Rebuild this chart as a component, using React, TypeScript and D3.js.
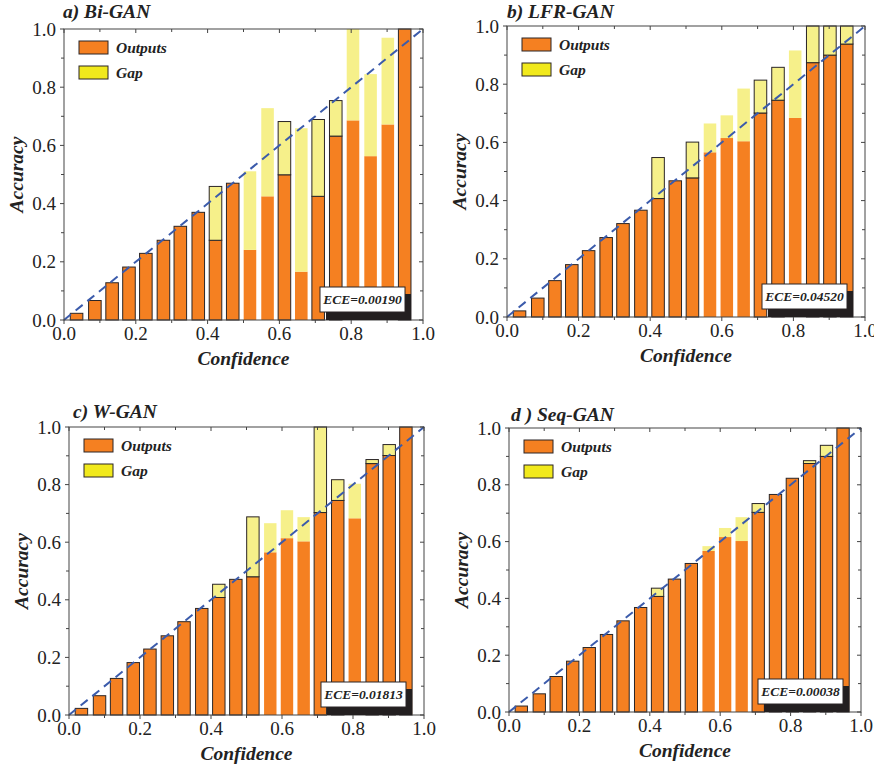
import React from "react";
import * as d3 from "d3";

// ---- data ----
const binCenters = [0.035, 0.086, 0.134, 0.181, 0.228, 0.277, 0.324, 0.374, 0.422, 0.470, 0.518, 0.567, 0.614, 0.661, 0.708, 0.757, 0.805, 0.854, 0.902, 0.949];

const accA = [0.023, 0.067, 0.128, 0.182, 0.229, 0.274, 0.322, 0.370, 0.274, 0.470, 0.241, 0.425, 0.499, 0.166, 0.425, 0.632, 0.686, 0.563, 0.672, 1.0];
const gapA = [null, null, null, null, null, null, null, null, 0.459, null, 0.511, 0.728, 0.682, 0.659, 0.689, 0.754, 1.0, 0.845, 0.970, null];
const plainBinsA = [11, 12, 14, 17, 18, 19];

const accB = [0.021, 0.065, 0.125, 0.180, 0.228, 0.273, 0.321, 0.367, 0.407, 0.468, 0.478, 0.566, 0.615, 0.604, 0.701, 0.745, 0.684, 0.874, 0.900, 0.938];
const gapB = [null, null, null, null, null, null, null, null, 0.548, null, 0.601, 0.665, 0.693, 0.785, 0.814, 0.858, 0.916, 1.0, 1.0, 1.0];
const plainBinsB = [12, 13, 14, 17];

const accC = [0.023, 0.067, 0.127, 0.182, 0.229, 0.275, 0.324, 0.370, 0.408, 0.471, 0.480, 0.565, 0.614, 0.603, 0.703, 0.745, 0.683, 0.873, 0.901, 1.0];
const gapC = [null, null, null, null, null, null, null, null, 0.454, null, 0.688, 0.666, 0.711, 0.687, 1.0, 0.817, 0.803, 0.887, 0.939, null];
const plainBinsC = [12, 13, 14, 17];

const accD = [0.021, 0.064, 0.125, 0.179, 0.227, 0.273, 0.321, 0.368, 0.407, 0.468, 0.523, 0.567, 0.616, 0.602, 0.703, 0.766, 0.823, 0.875, 0.900, 1.0];
const gapD = [null, null, null, null, null, null, null, null, 0.436, null, null, 0.584, 0.648, 0.686, 0.734, null, null, 0.885, 0.939, null];
const plainBinsD = [12, 13, 14];

const titles = ["a) Bi-GAN", "b) LFR-GAN", "c) W-GAN", "d ) Seq-GAN"];
const eceLabels = ["ECE=0.00190", "ECE=0.04520", "ECE=0.01813", "ECE=0.00038"];
const legendLabels = ["Outputs", "Gap"];
const majorTicks = [0, 0.2, 0.4, 0.6, 0.8, 1.0];
const minorTicks = [0.1, 0.3, 0.5, 0.7, 0.9];
const axisTitles = { x: "Confidence", y: "Accuracy" };

// ---- styles ----
const ORANGE = "#f58021";
const GAP_PALE = "#f6f08a";
const GAP_LEGEND = "#f1e91c";
const EDGE = "#2a2526";
const FONT = "\"Liberation Serif\", \"DejaVu Serif\", serif";
const BAR_W = 0.035;

const txt = (size: number, bold = false): React.CSSProperties => ({
  fontFamily: FONT,
  fontSize: size,
  fontWeight: bold ? "bold" : "normal",
  fontStyle: bold ? "italic" : "normal",
});

type PanelProps = {
  left: number; top: number; right: number; bottom: number;
  titleX: number; titleY: number;
  title: string; ece: string;
  acc: number[]; gap: (number | null)[]; plain: number[];
};

function Panel(p: PanelProps) {
  const x = d3.scaleLinear().domain([0, 1]).range([p.left, p.right]);
  const y = d3.scaleLinear().domain([0, 1]).range([p.bottom, p.top]);
  const fmt = d3.format(".1f");
  const all = [...majorTicks, ...minorTicks];
  const boxW = 85, boxH = 25;
  const boxX = p.right - 18 - boxW;
  const boxY = p.bottom - 8 - boxH;
  return (
    <g>
      {binCenters.map((c, i) => {
        const x0 = x(c - BAR_W / 2);
        const w = x(c + BAR_W / 2) - x0;
        const outlined = !p.plain.includes(i + 1);
        const a = p.acc[i];
        const g = p.gap[i];
        return (
          <g key={i}>
            <rect x={x0} y={y(a)} width={w} height={y(0) - y(a)} fill={ORANGE}
              stroke={outlined ? EDGE : "none"} strokeWidth={1} />
            {g != null && (
              <rect x={x0} y={y(g)} width={w} height={y(a) - y(g)} fill={GAP_PALE}
                stroke={outlined ? EDGE : "none"} strokeWidth={1} />
            )}
          </g>
        );
      })}
      <line x1={x(0)} y1={y(0)} x2={x(1)} y2={y(1)} stroke="#3b5bab" strokeWidth={2} strokeDasharray="9,6" />
      <rect x={p.left} y={p.top} width={p.right - p.left} height={p.bottom - p.top} fill="none" stroke="#444" strokeWidth={1} />
      {all.map((t, i) => {
        const len = majorTicks.includes(t) ? 4 : 3;
        return (
          <g key={"t" + i} stroke="#444" strokeWidth={1}>
            <line x1={x(t)} x2={x(t)} y1={p.bottom} y2={p.bottom + len} />
            <line x1={x(t)} x2={x(t)} y1={p.top} y2={p.top + len} />
            <line x1={p.left} x2={p.left - len} y1={y(t)} y2={y(t)} />
            <line x1={p.right} x2={p.right - len} y1={y(t)} y2={y(t)} />
          </g>
        );
      })}
      {majorTicks.map((t, i) => (
        <text key={"xl" + i} x={x(t)} y={p.bottom + 20} textAnchor="middle" style={txt(19)} fill="#222">{fmt(t)}</text>
      ))}
      {majorTicks.map((t, i) => (
        <text key={"yl" + i} x={p.left - 8} y={y(t)} dy="0.35em" textAnchor="end" style={txt(19)} fill="#222">{fmt(t)}</text>
      ))}
      <text x={(p.left + p.right) / 2} y={p.bottom + 45} textAnchor="middle" style={txt(19.5, true)} fill="#222">{axisTitles.x}</text>
      <text transform={`translate(${p.left - 41},${(p.top + p.bottom) / 2}) rotate(-90)`} textAnchor="middle" style={txt(19.5, true)} fill="#222">{axisTitles.y}</text>
      <text x={p.titleX} y={p.titleY} style={txt(19.5, true)} fill="#222">{p.title}</text>
      {legendLabels.map((l, i) => (
        <g key={"lg" + i}>
          <rect x={p.left + 15} y={p.top + 12 + i * 25} width={29} height={13} fill={i === 0 ? ORANGE : GAP_LEGEND} stroke={EDGE} strokeWidth={1} />
          <text x={p.left + 52} y={p.top + 24 + i * 25} style={txt(15.5, true)} fill="#222">{l}</text>
        </g>
      ))}
      <rect x={boxX + 6} y={boxY + 7} width={boxW} height={boxH + 1} fill="#231f20" />
      <rect x={boxX} y={boxY} width={boxW} height={boxH} fill="#fff" stroke={EDGE} strokeWidth={1} />
      <text x={boxX + boxW / 2} y={boxY + boxH / 2} dy="0.35em" textAnchor="middle" style={txt(13.5, true)} fill="#222">{p.ece}</text>
    </g>
  );
}

export default function App() {
  return (
    <svg width={874} height={765} style={{ position: "absolute", left: 0, top: 0, background: "#fff" }}>
      <rect width={874} height={765} fill="#fff" />
      <Panel left={64} top={29} right={423} bottom={320} titleX={63} titleY={18} title={titles[0]} ece={eceLabels[0]} acc={accA} gap={gapA} plain={plainBinsA} />
      <Panel left={507} top={26} right={865} bottom={317} titleX={507} titleY={18} title={titles[1]} ece={eceLabels[1]} acc={accB} gap={gapB} plain={plainBinsB} />
      <Panel left={69} top={427} right={424} bottom={715} titleX={73} titleY={418} title={titles[2]} ece={eceLabels[2]} acc={accC} gap={gapC} plain={plainBinsC} />
      <Panel left={509} top={428} right={861} bottom={712} titleX={511} titleY={421} title={titles[3]} ece={eceLabels[3]} acc={accD} gap={gapD} plain={plainBinsD} />
    </svg>
  );
}
